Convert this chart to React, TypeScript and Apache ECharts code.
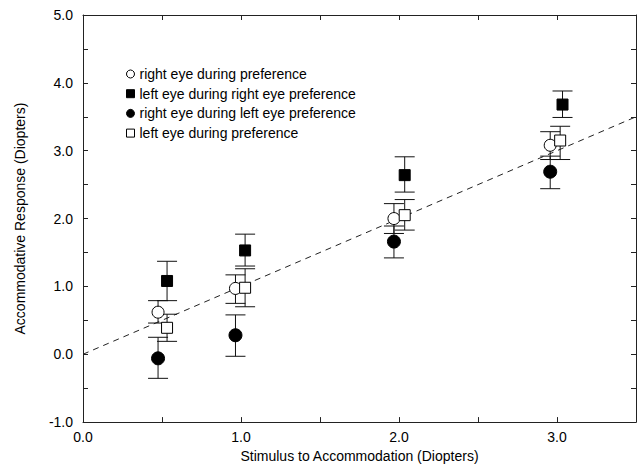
import React, { useEffect, useRef } from "react";
import * as echarts from "echarts";

// Series names (legend)
const seriesNames = [
  "right eye during preference",
  "left eye during right eye preference",
  "right eye during left eye preference",
  "left eye during preference",
];

// Stimulus positions (as plotted, slightly offset per series)
const xOpenCircle = [0.475, 0.965, 1.968, 2.957];
const xFilledSquare = [0.532, 1.026, 2.036, 3.035];
const xFilledCircle = [0.475, 0.965, 1.968, 2.957];
const xOpenSquare = [0.532, 1.026, 2.036, 3.02];

// Mean accommodative responses
const yOpenCircle = [0.62, 0.97, 2.0, 3.08];
const yFilledSquare = [1.08, 1.53, 2.64, 3.68];
const yFilledCircle = [-0.06, 0.28, 1.66, 2.69];
const yOpenSquare = [0.39, 0.98, 2.05, 3.15];

// Error bar lows / highs
const loOpenCircle = [0.46, 0.75, 1.78, 2.87];
const hiOpenCircle = [0.79, 1.17, 2.22, 3.28];
const loFilledSquare = [0.79, 1.3, 2.39, 3.49];
const hiFilledSquare = [1.37, 1.77, 2.91, 3.88];
const loFilledCircle = [-0.355, -0.03, 1.42, 2.44];
const hiFilledCircle = [0.25, 0.58, 1.89, 2.92];
const loOpenSquare = [0.19, 0.7, 1.83, 2.87];
const hiOpenSquare = [0.59, 1.26, 2.28, 3.36];

// Reference line (response = stimulus)
const refLineX = [0, 3.5];
const refLineY = [0, 3.5];

// Axis ticks
const xTicks = [0, 1, 2, 3];
const yTicks = [-1, 0, 1, 2, 3, 4, 5];

const FONT = "Liberation Sans, Arial, Helvetica, sans-serif";
const INK = "#000";

export default function App() {
  const ref = useRef<HTMLDivElement>(null);

  useEffect(() => {
    if (!ref.current) return;
    const chart = echarts.init(ref.current, undefined, { renderer: "svg" });

    const zip = (xs: number[], ys: number[]) => xs.map((x, i) => [x, ys[i]]);
    const zip3 = (xs: number[], lo: number[], hi: number[]) =>
      xs.map((x, i) => [x, lo[i], hi[i]]);

    const errorBar = (name: string, data: number[][]) => ({
      type: "custom",
      name: name + "_err",
      silent: true,
      z: 2,
      encode: { x: 0, y: [1, 2] },
      data,
      renderItem: (params: any, api: any) => {
        const x = api.value(0);
        const lo = api.coord([x, api.value(1)]);
        const hi = api.coord([x, api.value(2)]);
        const hw = 10;
        const style = { stroke: "#111", lineWidth: 1 };
        return {
          type: "group",
          children: [
            { type: "line", shape: { x1: lo[0], y1: lo[1], x2: hi[0], y2: hi[1] }, style },
            { type: "line", shape: { x1: lo[0] - hw, y1: lo[1], x2: lo[0] + hw, y2: lo[1] }, style },
            { type: "line", shape: { x1: hi[0] - hw, y1: hi[1], x2: hi[0] + hw, y2: hi[1] }, style },
          ],
        };
      },
    });

    const openStyle = { color: "#fff", borderColor: INK, borderWidth: 1, opacity: 1 };
    const filledStyle = { color: INK, borderColor: INK, borderWidth: 1, opacity: 1 };

    const axisCommon = {
      axisLine: { show: true, onZero: false, lineStyle: { color: "#222", width: 1 } },
      axisTick: { show: true, inside: true, length: 5, lineStyle: { color: "#222" } },
      minorTick: { show: true, splitNumber: 2, length: 5, lineStyle: { color: "#222" } },
      splitLine: { show: false },
      minorSplitLine: { show: false },
    };

    const option: any = {
      animation: false,
      backgroundColor: "#fff",
      textStyle: { fontFamily: FONT },
      grid: { left: 83, right: 1, top: 15, bottom: 41, containLabel: false },
      legend: {
        orient: "vertical",
        left: 121,
        top: 62,
        itemWidth: 8,
        itemHeight: 8,
        itemGap: 5.7,
        selectedMode: false,
        textStyle: { fontFamily: FONT, fontSize: 14, color: INK, lineHeight: 14 },
        data: [
          { name: seriesNames[0], icon: "circle", itemStyle: openStyle },
          { name: seriesNames[1], icon: "rect", itemStyle: filledStyle },
          { name: seriesNames[2], icon: "circle", itemStyle: filledStyle },
          { name: seriesNames[3], icon: "rect", itemStyle: openStyle },
        ],
      },
      xAxis: [
        {
          type: "value",
          position: "bottom",
          min: 0,
          max: 3.5,
          interval: 1,
          ...axisCommon,
          axisLabel: {
            show: true,
            fontFamily: FONT,
            fontSize: 14,
            color: INK,
            margin: 8,
            showMaxLabel: false,
            formatter: (v: number) => (xTicks.includes(v) ? v.toFixed(1) : ""),
          },
          name: "Stimulus to Accommodation (Diopters)",
          nameLocation: "middle",
          nameGap: 25,
          nameTextStyle: { fontFamily: FONT, fontSize: 14, color: INK },
        },
        {
          type: "value",
          position: "top",
          min: 0,
          max: 3.5,
          interval: 1,
          ...axisCommon,
          axisLabel: { show: false },
        },
      ],
      yAxis: [
        {
          type: "value",
          position: "left",
          min: -1,
          max: 5,
          interval: 1,
          ...axisCommon,
          axisLabel: {
            show: true,
            fontFamily: FONT,
            fontSize: 14,
            color: INK,
            margin: 10,
            formatter: (v: number) => (yTicks.includes(v) ? v.toFixed(1) : ""),
          },
          name: "Accommodative Response (Diopters)",
          nameLocation: "middle",
          nameGap: 56,
          nameTextStyle: { fontFamily: FONT, fontSize: 14, color: INK },
        },
        {
          type: "value",
          position: "right",
          min: -1,
          max: 5,
          interval: 1,
          ...axisCommon,
          axisLabel: { show: false },
        },
      ],
      series: [
        {
          type: "line",
          name: "reference",
          data: zip(refLineX, refLineY),
          symbol: "none",
          silent: true,
          z: 1,
          lineStyle: { color: "#222", width: 1, type: [6, 5] },
        },
        errorBar(seriesNames[0], zip3(xOpenCircle, loOpenCircle, hiOpenCircle)),
        errorBar(seriesNames[1], zip3(xFilledSquare, loFilledSquare, hiFilledSquare)),
        errorBar(seriesNames[2], zip3(xFilledCircle, loFilledCircle, hiFilledCircle)),
        errorBar(seriesNames[3], zip3(xOpenSquare, loOpenSquare, hiOpenSquare)),
        {
          type: "scatter",
          name: seriesNames[0],
          data: zip(xOpenCircle, yOpenCircle),
          symbol: "circle",
          symbolSize: 12,
          z: 3,
          itemStyle: openStyle,
        },
        {
          type: "scatter",
          name: seriesNames[1],
          data: zip(xFilledSquare, yFilledSquare),
          symbol: "rect",
          symbolSize: 11,
          z: 3,
          itemStyle: filledStyle,
        },
        {
          type: "scatter",
          name: seriesNames[2],
          data: zip(xFilledCircle, yFilledCircle),
          symbol: "circle",
          symbolSize: 13,
          z: 3,
          itemStyle: filledStyle,
        },
        {
          type: "scatter",
          name: seriesNames[3],
          data: zip(xOpenSquare, yOpenSquare),
          symbol: "rect",
          symbolSize: 11,
          z: 4,
          itemStyle: openStyle,
        },
      ],
    };

    chart.setOption(option);
    return () => chart.dispose();
  }, []);

  return (
    <div
      ref={ref}
      style={{ position: "fixed", left: 0, top: 0, width: 637, height: 468, background: "#fff" }}
    />
  );
}
